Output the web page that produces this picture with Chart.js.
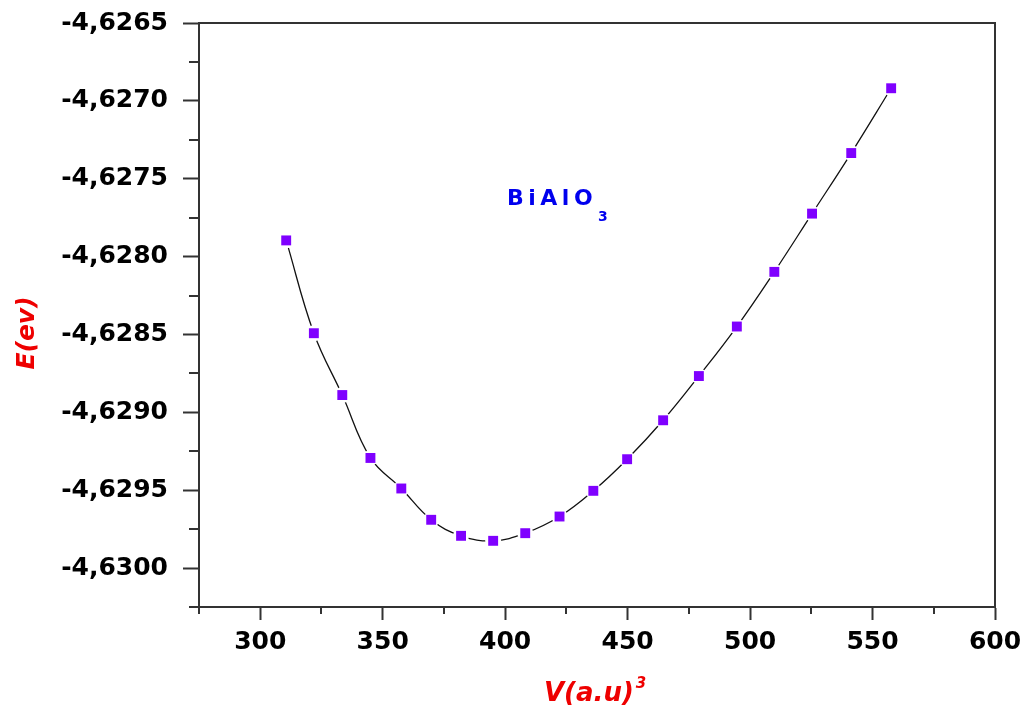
<!DOCTYPE html>
<html>
<head>
<meta charset="utf-8">
<script src="https://cdn.jsdelivr.net/npm/chart.js@4.4.0/dist/chart.umd.min.js"></script>
<style>
  body { margin: 0; background: #fff; }
  canvas { display: block; }
</style>
</head>
<body>
<canvas id="chart" width="1021" height="713"></canvas>
<script>
// V (a.u)^3 and E (eV)
const volumes = [310.6, 321.9, 333.5, 345.0, 357.6, 369.8, 382.0, 395.1, 408.2, 422.2,
                 436.0, 449.8, 464.5, 479.1, 494.6, 509.9, 525.3, 541.3, 557.6];
const energies = [-4.627896, -4.628492, -4.628889, -4.629293, -4.629489, -4.629690, -4.629793,
                  -4.629825, -4.629776, -4.629669, -4.629504, -4.629301, -4.629051, -4.628767,
                  -4.628449, -4.628098, -4.627724, -4.627335, -4.626919];

const xTicks = [300, 350, 400, 450, 500, 550, 600];
const xTickLabels = ['300', '350', '400', '450', '500', '550', '600'];
const xMinorTicks = [275, 325, 375, 425, 475, 525, 575];

const yTicks = [-4.6265, -4.6270, -4.6275, -4.6280, -4.6285, -4.6290, -4.6295, -4.6300];
const yTickLabels = ['-4,6265', '-4,6270', '-4,6275', '-4,6280', '-4,6285', '-4,6290', '-4,6295', '-4,6300'];
const yMinorTicks = [-4.62675, -4.62725, -4.62775, -4.62825, -4.62875, -4.62925, -4.62975, -4.63025];

const xTitle = 'V(a.u)';
const xTitleSup = '3';
const yTitle = 'E(ev)';
const compound = 'BiAlO';
const compoundSub = '3';

const points = volumes.map((v, i) => ({ x: v, y: energies[i] }));

const tickFont = { family: 'DejaVu Sans', weight: 'bold', size: 25 };

function noPad(s) {
  s.paddingTop = 0;
  s.paddingBottom = 0;
  s.paddingLeft = 0;
  s.paddingRight = 0;
}

const extras = {
  id: 'extras',
  afterDraw(chart) {
    const { ctx, chartArea: a, scales: { x, y } } = chart;
    ctx.save();
    ctx.strokeStyle = '#333';
    ctx.lineWidth = 2;

    // top and right frame
    ctx.beginPath();
    ctx.moveTo(a.left, a.top);
    ctx.lineTo(a.right, a.top);
    ctx.lineTo(a.right, a.bottom);
    ctx.stroke();

    // minor ticks
    ctx.beginPath();
    yMinorTicks.forEach(v => {
      const py = Math.round(y.getPixelForValue(v));
      ctx.moveTo(a.left - 10, py);
      ctx.lineTo(a.left, py);
    });
    xMinorTicks.forEach(v => {
      const px = Math.round(x.getPixelForValue(v));
      ctx.moveTo(px, a.bottom);
      ctx.lineTo(px, a.bottom + 7);
    });
    ctx.stroke();

    // y title
    ctx.fillStyle = '#ee0000';
    ctx.save();
    ctx.translate(27, 333);
    ctx.rotate(-Math.PI / 2);
    ctx.font = 'italic bold 25px "DejaVu Sans"';
    ctx.textAlign = 'center';
    ctx.textBaseline = 'middle';
    ctx.fillText(yTitle, 0, 0);
    ctx.restore();

    // x title with superscript
    ctx.font = 'italic bold 26px "DejaVu Sans"';
    ctx.textAlign = 'left';
    ctx.textBaseline = 'alphabetic';
    ctx.fillText(xTitle, 544, 701);
    const w = ctx.measureText(xTitle).width;
    ctx.font = 'italic bold 15px "DejaVu Sans"';
    ctx.fillText(xTitleSup, 544 + w + 2, 688);

    // compound label, spaced letters
    ctx.fillStyle = '#0000ee';
    ctx.font = 'bold 22px "DejaVu Sans"';
    let cx = 507;
    for (const ch of compound) {
      ctx.fillText(ch, cx, 205);
      cx += ctx.measureText(ch).width + 4.5;
    }
    ctx.font = 'bold 14px "DejaVu Sans"';
    ctx.fillText(compoundSub, cx + 1, 221);

    ctx.restore();
  }
};

new Chart(document.getElementById('chart'), {
  type: 'scatter',
  data: {
    datasets: [
      {
        // smooth connecting curve
        data: points,
        showLine: true,
        borderColor: '#111',
        borderWidth: 1.3,
        tension: 0.4,
        pointRadius: 0,
        order: 3
      },
      {
        // white gaps around markers
        data: points,
        showLine: false,
        pointStyle: 'circle',
        pointRadius: 8,
        pointBackgroundColor: '#fff',
        pointBorderWidth: 0,
        order: 2
      },
      {
        data: points,
        showLine: false,
        pointStyle: 'rect',
        pointRadius: 7,
        pointBackgroundColor: '#7f00ff',
        pointBorderColor: '#7f00ff',
        pointBorderWidth: 0,
        order: 1
      }
    ]
  },
  options: {
    responsive: false,
    animation: false,
    layout: { padding: { left: 0, top: 23, right: 26, bottom: 0 } },
    plugins: { legend: { display: false }, tooltip: { enabled: false } },
    scales: {
      x: {
        type: 'linear',
        min: 275,
        max: 600,
        afterFit(s) { s.height = 106; noPad(s); },
        afterBuildTicks(s) { s.ticks = xTicks.map(v => ({ value: v })); },
        grid: { drawOnChartArea: false, tickLength: 13, tickColor: '#333', tickWidth: 2 },
        border: { color: '#333', width: 2 },
        ticks: {
          padding: 7,
          color: '#000',
          font: tickFont,
          maxRotation: 0,
          callback: (v, i) => xTickLabels[i]
        }
      },
      y: {
        type: 'linear',
        min: -4.63025,
        max: -4.6265,
        afterFit(s) { s.width = 199; noPad(s); },
        afterBuildTicks(s) { s.ticks = yTicks.map(v => ({ value: v })); },
        grid: { drawOnChartArea: false, tickLength: 16, tickColor: '#333', tickWidth: 2 },
        border: { color: '#333', width: 2 },
        ticks: {
          padding: 15,
          color: '#000',
          font: tickFont,
          callback: (v, i) => yTickLabels[i]
        }
      }
    }
  },
  plugins: [extras]
});
</script>
</body>
</html>
